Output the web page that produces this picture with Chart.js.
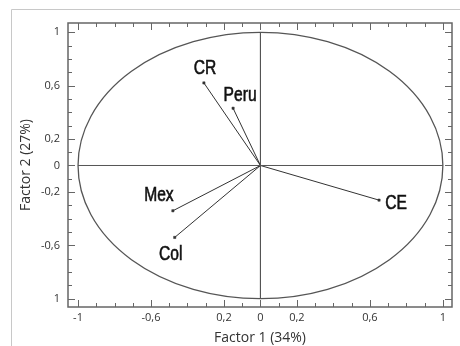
<!DOCTYPE html>
<html>
<head>
<meta charset="utf-8">
<script src="https://cdn.jsdelivr.net/npm/chart.js@4/dist/chart.umd.min.js"></script>
<style>
  html, body { margin: 0; padding: 0; background: #fff; }
  #wrap { width: 460px; height: 346px; position: relative; }
</style>
</head>
<body>
<div id="wrap"><canvas id="c" width="460" height="346"></canvas></div>
<script>
// ---- data ----
const variables = ['CR', 'Peru', 'Mex', 'Col', 'CE'];
const factor1 = [-0.31, -0.15, -0.48, -0.47, 0.65];
const factor2 = [0.62, 0.43, -0.34, -0.54, -0.26];
const xTickValues = [-1, -0.6, -0.2, 0, 0.2, 0.6, 1];
const xTickLabels = ['-1', '-0,6', '0,2', '0', '0,2', '0,6', '1'];
const yTickValues = [1, 0.6, 0.2, 0, -0.2, -0.6, -1];
const yTickLabels = ['1', '0,6', '0,2', '0', '-0,2', '-0,6', '1'];
const xTitle = 'Factor 1 (34%)';
const yTitle = 'Factor 2 (27%)';

// label offsets in px (style only)
const labelOffsets = {
  'CR': [1, -14], 'Peru': [7, -13], 'Mex': [-14, -15], 'Col': [-4, 17], 'CE': [17, 3]
};

const datasets = variables.map((name, i) => ({
  label: name,
  data: [{x: 0, y: 0}, {x: factor1[i], y: factor2[i]}],
  borderColor: '#333',
  borderWidth: 1,
  pointRadius: [0, 1.6],
  pointStyle: 'rect',
  pointBackgroundColor: '#333',
  pointBorderColor: '#333',
  pointBorderWidth: 0.5,
  showLine: true,
  tension: 0
}));

// zero axes (diameters of the unit circle)
datasets.unshift({
  label: 'hAxis', data: [{x: -1, y: 0}, {x: 1, y: 0}],
  borderColor: '#555', borderWidth: 1, pointRadius: 0, showLine: true
}, {
  label: 'vAxis', data: [{x: 0, y: 1}, {x: 0, y: -1}],
  borderColor: '#555', borderWidth: 1, pointRadius: 0, showLine: true
});

const decor = {
  id: 'decor',
  beforeDraw(chart) {
    const ctx = chart.ctx;
    ctx.save();
    ctx.fillStyle = '#fff';
    ctx.fillRect(0, 0, chart.width, chart.height);
    // outer light border
    ctx.strokeStyle = '#c8c8c8';
    ctx.lineWidth = 1;
    ctx.beginPath();
    ctx.moveTo(11.5, 346);
    ctx.lineTo(11.5, 9.5);
    ctx.lineTo(460, 9.5);
    ctx.stroke();
    ctx.restore();
  },
  beforeDatasetsDraw(chart) {
    const ctx = chart.ctx;
    const xs = chart.scales.x, ys = chart.scales.y;
    const cx = xs.getPixelForValue(0), cy = ys.getPixelForValue(0);
    const rx = xs.getPixelForValue(1) - cx, ry = cy - ys.getPixelForValue(1);
    ctx.save();
    ctx.strokeStyle = '#555';
    ctx.lineWidth = 1.3;
    ctx.beginPath();
    ctx.ellipse(cx, cy, rx, ry, 0, 0, Math.PI * 2);
    ctx.stroke();
    ctx.restore();
  },
  afterDraw(chart) {
    const ctx = chart.ctx;
    const a = chart.chartArea;
    const xs = chart.scales.x, ys = chart.scales.y;
    ctx.save();
    // frame
    ctx.strokeStyle = '#666';
    ctx.lineWidth = 1.5;
    ctx.strokeRect(a.left, a.top, a.right - a.left, a.bottom - a.top);
    // inward ticks every 0.1
    ctx.lineWidth = 1;
    ctx.strokeStyle = '#666';
    ctx.beginPath();
    for (let k = -10; k <= 10; k++) {
      const v = k / 10;
      const major = xTickValues.some(t => Math.abs(t - v) < 1e-6);
      const len = major ? 7 : 4;
      const px = Math.round(xs.getPixelForValue(v)) + 0.5;
      ctx.moveTo(px, a.bottom); ctx.lineTo(px, a.bottom - len);
      ctx.moveTo(px, a.top); ctx.lineTo(px, a.top + len);
      const majorY = yTickValues.some(t => Math.abs(t - v) < 1e-6);
      const leny = majorY ? 7 : 4;
      const py = Math.round(ys.getPixelForValue(v)) + 0.5;
      ctx.moveTo(a.left, py); ctx.lineTo(a.left + leny, py);
      ctx.moveTo(a.right, py); ctx.lineTo(a.right - leny, py);
    }
    ctx.stroke();
    // variable labels (condensed)
    ctx.fillStyle = '#111';
    ctx.strokeStyle = '#111';
    ctx.lineWidth = 0.6;
    ctx.font = '20px "Liberation Sans", Arial, sans-serif';
    ctx.textAlign = 'center';
    ctx.textBaseline = 'middle';
    const sx = 0.78;
    variables.forEach((name, i) => {
      const px = xs.getPixelForValue(factor1[i]);
      const py = ys.getPixelForValue(factor2[i]);
      const o = labelOffsets[name];
      ctx.save();
      ctx.translate(px + o[0], py + o[1]);
      ctx.scale(sx, 1);
      ctx.fillText(name, 0, 0);
      ctx.strokeText(name, 0, 0);
      ctx.restore();
    });
    ctx.restore();
  }
};

new Chart(document.getElementById('c'), {
  type: 'scatter',
  data: { datasets },
  options: {
    responsive: false,
    animation: false,
    devicePixelRatio: 1,
    layout: { padding: { top: 23, right: 8, left: 0, bottom: 0 } },
    plugins: { legend: { display: false }, tooltip: { enabled: false } },
    scales: {
      x: {
        type: 'linear', min: -1.055, max: 1.05,
        afterBuildTicks(scale) { scale.ticks = xTickValues.map(v => ({value: v})); },
        afterFit(scale) { scale.height = 39; },
        ticks: {
          autoSkip: false, maxRotation: 0, padding: 4,
          color: '#333', font: { family: '"Open Sans", sans-serif', size: 11 },
          callback(value) {
            const i = xTickValues.findIndex(t => Math.abs(t - value) < 1e-6);
            return i >= 0 ? xTickLabels[i] : '';
          }
        },
        grid: { display: false, drawTicks: false },
        border: { display: false },
        title: { display: true, text: xTitle, color: '#333',
                 font: { family: '"Open Sans", sans-serif', size: 14 }, padding: { top: 4, bottom: 0 } }
      },
      y: {
        type: 'linear', min: -1.0625, max: 1.07,
        afterBuildTicks(scale) { scale.ticks = yTickValues.map(v => ({value: v})); },
        afterFit(scale) { scale.width = 68; },
        ticks: {
          autoSkip: false, padding: 8,
          color: '#333', font: { family: '"Open Sans", sans-serif', size: 11 },
          callback(value) {
            const i = yTickValues.findIndex(t => Math.abs(t - value) < 1e-6);
            return i >= 0 ? yTickLabels[i] : '';
          }
        },
        grid: { display: false, drawTicks: false },
        border: { display: false },
        title: { display: true, text: yTitle, color: '#333',
                 font: { family: '"Open Sans", sans-serif', size: 14 }, padding: { top: 18, bottom: 0 } }
      }
    }
  },
  plugins: [decor]
});
</script>
</body>
</html>
